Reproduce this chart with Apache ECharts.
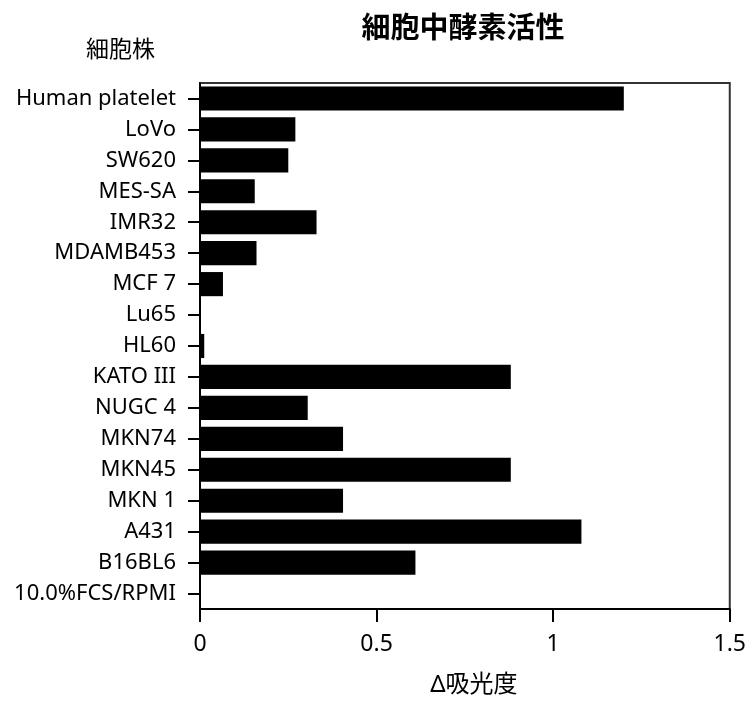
<!DOCTYPE html>
<html>
<head>
<meta charset="utf-8">
<script src="https://cdn.jsdelivr.net/npm/echarts@6/dist/echarts.min.js"></script>
<style>
  html, body { margin: 0; padding: 0; background: #fff; }
  #chart { width: 749px; height: 702px; }
</style>
</head>
<body>
<div id="chart"></div>
<script>
// Cell lines, listed top to bottom
const cellLines = [
  'Human platelet', 'LoVo', 'SW620', 'MES-SA', 'IMR32', 'MDAMB453', 'MCF 7',
  'Lu65', 'HL60', 'KATO III', 'NUGC 4', 'MKN74', 'MKN45', 'MKN 1', 'A431',
  'B16BL6', '10.0%FCS/RPMI'
];
// Enzyme activity (Δ absorbance) for each cell line
const activity = [
  1.20, 0.27, 0.25, 0.155, 0.33, 0.16, 0.065,
  0.0, 0.012, 0.88, 0.305, 0.405, 0.88, 0.405, 1.08,
  0.61, 0.0
];
const xTicks = [0, 0.5, 1, 1.5];

const FONT = '"Noto Sans", "Noto Sans CJK JP", sans-serif';

const chart = echarts.init(document.getElementById('chart'), null, { renderer: 'canvas' });
chart.setOption({
  backgroundColor: '#fff',
  animation: false,
  title: {
    text: '細胞中酵素活性',
    left: 458, top: 10, textAlign: 'center',
    textStyle: { fontFamily: FONT, fontSize: 29, fontWeight: 'bold', color: '#000' }
  },
  graphic: [{
    type: 'text', left: 86, top: 39,
    style: { text: '細胞株', font: '23px ' + FONT, fill: '#000' }
  }],
  grid: {
    left: 200, right: 15, top: 83, bottom: 88,
    show: true, borderColor: '#333', borderWidth: 2, backgroundColor: 'transparent'
  },
  xAxis: {
    type: 'value', min: xTicks[0], max: xTicks[xTicks.length - 1], interval: 0.5,
    name: 'Δ吸光度', nameLocation: 'middle', nameGap: 64,
    nameTextStyle: { fontFamily: FONT, fontSize: 24, color: '#000', padding: [0, 0, 0, 18] },
    axisLine: { show: true, lineStyle: { color: '#000', width: 2 } },
    axisTick: { show: true, length: 13, lineStyle: { color: '#000', width: 2 } },
    axisLabel: { fontFamily: FONT, fontSize: 23, color: '#000', margin: 24,
      formatter: v => String(v) },
    splitLine: { show: false }
  },
  yAxis: {
    type: 'category', data: cellLines, inverse: true,
    axisLine: { show: true, lineStyle: { color: '#000', width: 2 } },
    axisTick: { show: true, alignWithLabel: true, length: 12, lineStyle: { color: '#000', width: 2 } },
    axisLabel: { fontFamily: FONT, fontSize: 22, color: '#000', margin: 24 }
  },
  series: [{
    type: 'bar', data: activity, barCategoryGap: '22%',
    itemStyle: { color: '#000' }
  }]
});
</script>
</body>
</html>
